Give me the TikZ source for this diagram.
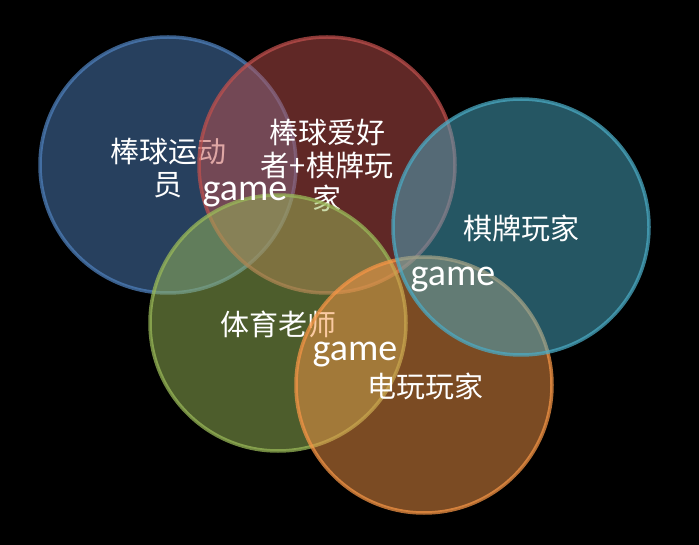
\documentclass[tikz,border=0pt]{standalone}
\usepackage{fontspec}
\newfontfamily\cjkfont{Noto Sans CJK SC}
\newfontfamily\gamefont{Carlito}
\definecolor{cblue}{HTML}{4F81BD}
\definecolor{cred}{HTML}{C0504D}
\definecolor{cgreen}{HTML}{9BBB59}
\definecolor{corange}{HTML}{F79646}
\definecolor{cteal}{HTML}{4BACC6}
\tikzset{
  venn/.style={circle, minimum size=256pt, inner sep=0pt, line width=3.5pt, fill=#1, fill opacity=0.5, draw=#1, draw opacity=0.72, text opacity=1},
  cjklabel/.style={text=white, font=\cjkfont\fontsize{29}{33}\selectfont, align=center, inner sep=0pt},
  gamelabel/.style={text=white, font=\gamefont\fontsize{38}{40}\selectfont, inner sep=0pt},
}
\begin{document}
\begin{tikzpicture}[x=1pt,y=-1pt]
\useasboundingbox[fill=black] (0,0) rectangle (699,545);
\node[venn=cblue] (c1) at (168,165) {};
\node[cjklabel] (t1) at (168,168) {棒球运动\\员};
\node[venn=cred] (c2) at (327,165) {};
\node[cjklabel] (t2) at (327,165) {棒球爱好\\者+棋牌玩\\家};
\node[venn=cgreen] (c3) at (278,323) {};
\node[cjklabel] (t3) at (278,324) {体育老师};
\node[venn=corange] (c4) at (424,385) {};
\node[cjklabel] (t4) at (425,386) {电玩玩家};
\node[venn=cteal] (c5) at (521,227) {};
\node[cjklabel] (t5) at (521,228) {棋牌玩家};
\node[gamelabel] (g1) at (245,195) {game};
\node[gamelabel] (g2) at (453,280) {game};
\node[gamelabel] (g3) at (355,355) {game};
\end{tikzpicture}
\end{document}
